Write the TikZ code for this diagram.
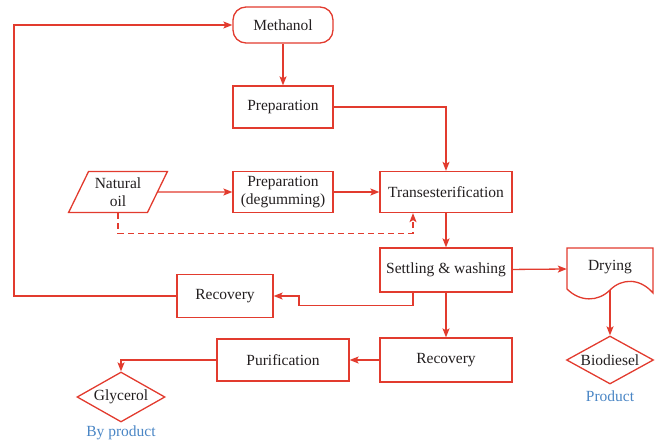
\documentclass[tikz,border=0pt]{standalone}
\usepackage{fontspec}
\setmainfont{Liberation Serif}
\usetikzlibrary{shapes.geometric,arrows.meta}
\definecolor{flowred}{HTML}{E23B2E}
\definecolor{flowblue}{HTML}{4A86C5}
\definecolor{flowtext}{HTML}{231F20}
\begin{document}
\begin{tikzpicture}[x=1pt, y=-1pt,
	every node/.style={font=\fontsize{15.5}{17.5}\selectfont, text=flowtext},
	box/.style={draw=flowred, line width=1.3pt, inner sep=0pt, align=center},
	line/.style={draw=flowred, line width=1.3pt},
	arr/.style={line, -{Stealth[length=9pt, width=7pt, inset=2pt]}},
	note/.style={text=flowblue}]
	\useasboundingbox (0,0) rectangle (656,442);
	\coordinate[](loop) at (14,25) ;
	
	\node[box, rounded corners=13pt, minimum width=100pt, minimum height=36pt](methanol) at (283,25) {Methanol};
	\node[box, minimum width=100pt, minimum height=42pt](prep) at (283,107) {Preparation};
	\node[box, trapezium, trapezium left angle=61, trapezium right angle=119, trapezium stretches=true,
		minimum width=99pt, minimum height=41pt](oil) at (118,192) {Natural\\oil};
	\node[box, minimum width=100pt, minimum height=41pt](degum) at (283,192) {Preparation\\(degumming)};
	\node[box, minimum width=132pt, minimum height=41pt](trans) at (446,192) {Transesterification};
	\node[box, minimum width=132pt, minimum height=44pt](settle) at (446,270) {Settling \& washing};
	\node[inner sep=0pt, minimum width=86pt, minimum height=42pt](drying) at (610,269) {};
	\node[](dryingtext) at (610,267) {Drying};
	\node[box, diamond, aspect=1.8, minimum width=87pt, minimum height=48pt](bio) at (610,360) {Biodiesel};
	\node[box, minimum width=96pt, minimum height=43pt](recov1) at (225,296) {Recovery};
	\node[box, minimum width=132pt, minimum height=44pt](recov2) at (446,360) {Recovery};
	\node[box, minimum width=132pt, minimum height=42pt](purif) at (283,360) {Purification};
	\node[box, diamond, aspect=1.76, minimum width=88pt, minimum height=50pt](gly) at (121,397) {Glycerol};
	\node[note](product) at (610,396) {Product};
	\node[note](byproduct) at (121,433) {By product};
	
	\draw[line] (567,248) -- (653,248) -- (653,293)
		.. controls (640,278) and (622,278) .. (610,290)
		.. controls (598,302) and (580,302) .. (567,289) -- cycle;
	
	\draw[arr] (methanol) -- (prep);
	\draw[arr] (prep.east) -| (trans.north);
	\draw[arr] (oil.east) -- (degum.west);
	\draw[arr] (degum) -- (trans);
	\draw[arr, dash pattern=on 6pt off 4pt] (oil.center |- oil.south) -- ++(0,20) -| ([xshift=-33pt]trans.south);
	\draw[arr] (trans) -- (settle);
	\draw[arr] (settle) -- (drying.west);
	\draw[arr] (drying.south) -- (bio.north);
	\draw[arr] (settle) -- (recov2);
	\draw[arr] ([xshift=-33pt]settle.south) |- ++(-114,13) |- (recov1.east);
	\draw[arr] (recov1.west) -| (loop) -- (methanol.west);
	\draw[arr] (recov2) -- (purif);
	\draw[arr] (purif.west) -| (gly.north);
\end{tikzpicture}
\end{document}
